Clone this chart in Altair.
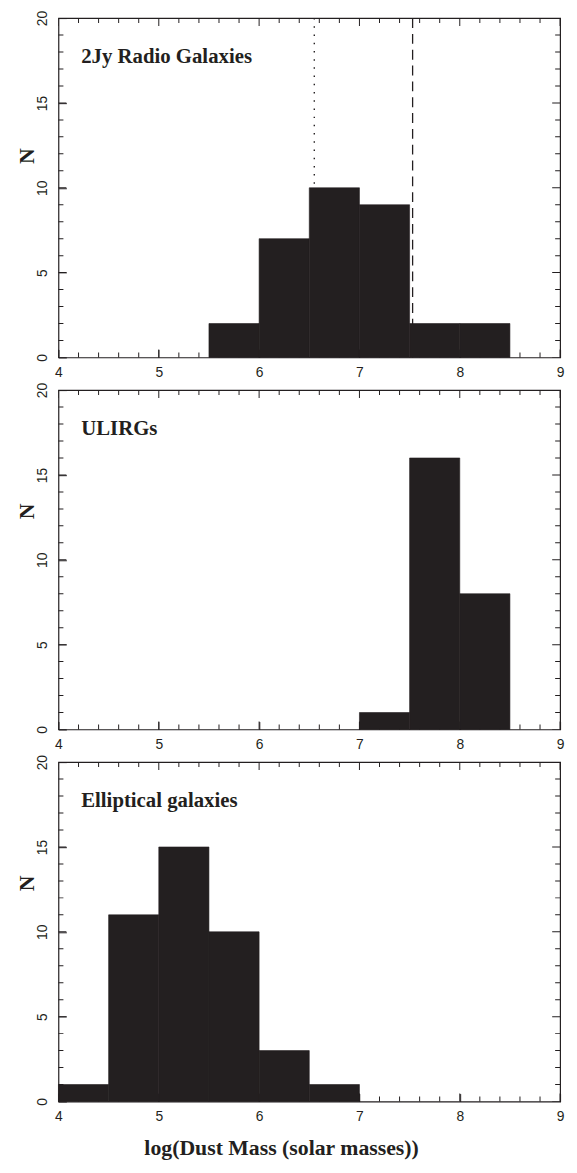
import altair as alt
import pandas as pd

# ---- data ----
bin_width = 0.5
radio_bin_starts = [5.5, 6.0, 6.5, 7.0, 7.5, 8.0]
radio_counts = [2, 7, 10, 9, 2, 2]
ulirg_bin_starts = [7.0, 7.5, 8.0]
ulirg_counts = [1, 16, 8]
ell_bin_starts = [4.0, 4.5, 5.0, 5.5, 6.0, 6.5]
ell_counts = [1, 11, 15, 10, 3, 1]
panel_names = ["2Jy Radio Galaxies", "ULIRGs", "Elliptical galaxies"]
dotted_line_x = [6.55]
dashed_line_x = [7.53]
x_major = [4, 5, 6, 7, 8, 9]
y_major = [0, 5, 10, 15, 20]
x_minor = [round(4 + 0.2 * i, 1) for i in range(26) if i % 5]
y_minor = [i for i in range(21) if i % 5]
x_title = "log(Dust Mass (solar masses))"
y_title = "N"

# ---- style ----
INK = "#231f20"
SERIF = "Liberation Serif"
SANS = "Liberation Sans"
W, H = 507, 343
MAJ, MIN = 8, 5          # inward tick lengths in px
X_LO, X_HI = 4, 9
Y_LO, Y_HI = 0, 20

xs = alt.Scale(domain=[X_LO, X_HI], nice=False, zero=False)
ys = alt.Scale(domain=[Y_LO, Y_HI], nice=False, zero=False)


def panel(starts, counts, name, title_y, bottom, lines):
    df = pd.DataFrame({"x0": starts,
                       "x1": [s + bin_width for s in starts],
                       "n": counts})
    # major ticks drawn inward by the axis itself (negative length)
    xkw = dict(orient="bottom", values=x_major, format="d", ticks=True,
               tickSize={"expr": str(-MAJ)}, tickColor=INK, tickWidth=1,
               domain=False, grid=False, labelFlush=False, labelFont=SANS,
               labelFontSize=14, labelColor=INK, labelPadding=8 + MAJ)
    if bottom:
        xkw.update(title=x_title, titleFont=SERIF, titleFontWeight="bold",
                   titleFontSize=22, titleColor=INK, titleX=225, titleY=54,
                   titleAlign="center", titleBaseline="alphabetic")
    else:
        xkw.update(title=None)
    ykw = dict(orient="left", values=y_major, format="d", ticks=True,
               tickSize={"expr": str(-MAJ)}, tickColor=INK, tickWidth=1,
               domain=False, grid=False, labelFont=SANS, labelFontSize=14,
               labelColor=INK, labelAngle=270, labelAlign="center",
               labelBaseline="bottom", labelPadding=9 + MAJ, labelFlush=False,
               title=y_title, titleFont=SERIF, titleFontWeight="bold",
               titleFontSize=22, titleColor=INK, titleAngle=270, titleX=-32,
               titleY=title_y, titleAlign="center", titleBaseline="middle")
    xa = alt.Axis(**xkw)
    ya = alt.Axis(**ykw)

    layers = []
    # inward frame ticks: ticks centred on the frame edge, clipped to the plot
    for size, xv, yv in [(MAJ, x_major, y_major), (MIN, x_minor, y_minor)]:
        xt = pd.DataFrame([(t, e) for t in xv for e in (Y_LO, Y_HI)],
                          columns=["t", "e"])
        yt = pd.DataFrame([(t, e) for t in yv for e in (X_LO, X_HI)],
                          columns=["t", "e"])
        layers.append(alt.Chart(xt).mark_tick(
            orient="vertical", size=2 * size, thickness=1, color=INK,
            clip=True, opacity=1).encode(
            x=alt.X("t:Q", scale=xs, axis=xa),
            y=alt.Y("e:Q", scale=ys, axis=ya)))
        layers.append(alt.Chart(yt).mark_tick(
            orient="horizontal", size=2 * size, thickness=1, color=INK,
            clip=True, opacity=1).encode(
            x=alt.X("e:Q", scale=xs, axis=xa),
            y=alt.Y("t:Q", scale=ys, axis=ya)))
    # reference lines
    for vals, dash, sw in lines:
        ldf = pd.DataFrame({"v": vals})
        layers.append(alt.Chart(ldf).mark_rule(color=INK, strokeDash=dash,
                                               strokeWidth=sw).encode(
            x=alt.X("v:Q", scale=xs, axis=xa)))
    bars = alt.Chart(df).mark_bar(color=INK, opacity=1, stroke=INK,
                                  strokeWidth=0.6).encode(
        x=alt.X("x0:Q", scale=xs, axis=xa),
        x2="x1:Q",
        y=alt.Y("n:Q", scale=ys, axis=ya),
        y2=alt.datum(0),
    )
    layers.append(bars)
    label_df = pd.DataFrame({"label": [name]})
    layers.append(alt.Chart(label_df).mark_text(
        align="left", baseline="alphabetic", font=SERIF, fontWeight="bold",
        fontSize=21, color=INK).encode(
        x=alt.value(23), y=alt.value(45), text="label:N"))
    return alt.layer(*layers).properties(width=W, height=H)


p1 = panel(radio_bin_starts, radio_counts, panel_names[0], 139, False,
           [(dotted_line_x, [1.5, 6.8], 1.4), (dashed_line_x, [10, 6], 1.3)])
p2 = panel(ulirg_bin_starts, ulirg_counts, panel_names[1], 122, False, [])
p3 = panel(ell_bin_starts, ell_counts, panel_names[2], 122, True, [])

chart = alt.vconcat(p1, p2, p3, spacing=33, bounds="flush").properties(
    padding={"left": 7, "top": -5, "right": 4, "bottom": 0},
    background="white",
).configure_view(stroke=INK, strokeWidth=1.2)

chart.save("out.html", embed_options={"renderer": "svg", "actions": False})
